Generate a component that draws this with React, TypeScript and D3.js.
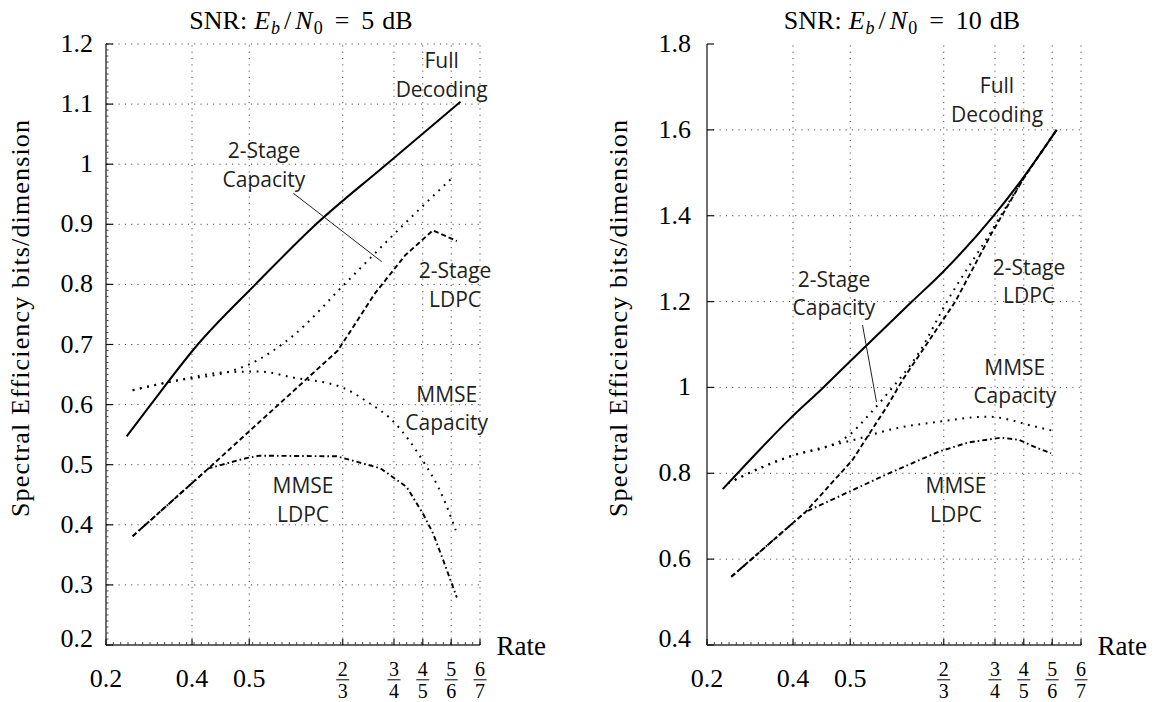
import React from "react";
import * as d3 from "d3";

// ---------- axis definitions ----------
const rateTicks = [0.2, 0.4, 0.5, 2 / 3, 3 / 4, 4 / 5, 5 / 6, 6 / 7];
const rateTickLabels = ["0.2", "0.4", "0.5", "2/3", "3/4", "4/5", "5/6", "6/7"];
// relative placement of each rate tick along the (non-linear) rate axis
const rateAxisStretch = [0, 0.23, 0.383, 0.633, 0.77, 0.847, 0.923, 1];
const minorRateDivisions = 51;

const yTicks5 = [0.2, 0.3, 0.4, 0.5, 0.6, 0.7, 0.8, 0.9, 1.0, 1.1, 1.2];
const yTickLabels5 = ["0.2", "0.3", "0.4", "0.5", "0.6", "0.7", "0.8", "0.9", "1", "1.1", "1.2"];
const yTicks10 = [0.4, 0.6, 0.8, 1.0, 1.2, 1.4, 1.6, 1.8];
const yTickLabels10 = ["0.4", "0.6", "0.8", "1", "1.2", "1.4", "1.6", "1.8"];

// ---------- data: [rate, spectral efficiency] ----------
// Eb/N0 = 5 dB
const fullDecoding5: [number, number][] = [
  [0.248, 0.547], [0.304, 0.6], [0.41, 0.7], [0.511, 0.8], [0.619, 0.9], [0.738, 1.0], [0.841, 1.104],
];
const twoStageCapacity5: [number, number][] = [
  [0.262, 0.624], [0.357, 0.639], [0.461, 0.654], [0.5, 0.667], [0.576, 0.713], [0.673, 0.804], [0.76, 0.893], [0.835, 0.979],
];
const mmseCapacity5: [number, number][] = [
  [0.262, 0.624], [0.357, 0.639], [0.461, 0.654], [0.519, 0.655], [0.578, 0.645], [0.667, 0.628], [0.706, 0.605],
  [0.749, 0.572], [0.803, 0.5], [0.818, 0.463], [0.834, 0.408], [0.837, 0.391],
];
const twoStageLdpc5: [number, number][] = [
  [0.262, 0.381], [0.429, 0.494], [0.658, 0.69], [0.719, 0.785], [0.77, 0.849], [0.812, 0.89], [0.838, 0.872],
];
const mmseLdpc5: [number, number][] = [
  [0.262, 0.381], [0.429, 0.494], [0.495, 0.511], [0.519, 0.515], [0.656, 0.514], [0.728, 0.494], [0.772, 0.463],
  [0.8, 0.419], [0.812, 0.386], [0.824, 0.341], [0.838, 0.279],
];

// Eb/N0 = 10 dB
const fullDecoding10: [number, number][] = [
  [0.2365, 0.763], [0.391, 0.925], [0.453, 1.0], [0.499, 1.06], [0.61, 1.2], [0.663, 1.266], [0.748, 1.4], [0.796, 1.483], [0.837, 1.6],
];
const twoStageCapacity10: [number, number][] = [
  [0.249, 0.777], [0.414, 0.847], [0.446, 0.856], [0.498, 0.889], [0.536, 0.94], [0.569, 0.99], [0.622, 1.08],
  [0.672, 1.2], [0.738, 1.35], [0.801, 1.49], [0.837, 1.6],
];
const mmseCapacity10: [number, number][] = [
  [0.249, 0.777], [0.414, 0.847], [0.446, 0.858], [0.504, 0.877], [0.582, 0.905], [0.657, 0.92], [0.738, 0.932],
  [0.813, 0.909], [0.832, 0.9],
];
const twoStageLdpc10: [number, number][] = [
  [0.2565, 0.559], [0.422, 0.71], [0.504, 0.831], [0.569, 0.963], [0.593, 1.017], [0.6855, 1.2], [0.7445, 1.359],
  [0.801, 1.491], [0.837, 1.6],
];
const mmseLdpc10: [number, number][] = [
  [0.2565, 0.559], [0.422, 0.71], [0.498, 0.757], [0.569, 0.8], [0.657, 0.85], [0.707, 0.872], [0.761, 0.883],
  [0.791, 0.878], [0.817, 0.858], [0.832, 0.847],
];

// ---------- annotations (data coordinates) ----------
const labels5 = [
  { lines: ["Full", "Decoding"], rate: 0.8222, value: 1.1596 },
  { lines: ["2-Stage", "Capacity"], rate: 0.5263, value: 1.0098 },
  { lines: ["2-Stage", "LDPC"], rate: 0.8365, value: 0.8101 },
  { lines: ["MMSE", "Capacity"], rate: 0.8281, value: 0.6048 },
  { lines: ["MMSE", "LDPC"], rate: 0.5958, value: 0.4524 },
];
const leader5: [number, number][] = [[0.5787, 0.9516], [0.73, 0.8378]];

const labels10 = [
  { lines: ["Full", "Decoding"], rate: 0.7535, value: 1.6852 },
  { lines: ["2-Stage", "Capacity"], rate: 0.4716, value: 1.2347 },
  { lines: ["2-Stage", "LDPC"], rate: 0.8061, value: 1.2619 },
  { lines: ["MMSE", "Capacity"], rate: 0.7844, value: 1.029 },
  { lines: ["MMSE", "LDPC"], rate: 0.6866, value: 0.7534 },
];
const leader10: [number, number][] = [[0.5219, 1.1454], [0.5468, 0.966]];

const styles: Record<string, { dash: string; width: number; smooth: boolean }> = {
  full: { dash: "", width: 2, smooth: true },
  twoCap: { dash: "1.8,5.6", width: 2, smooth: true },
  mmseCap: { dash: "1.8,5.6", width: 2, smooth: true },
  twoLdpc: { dash: "5,3", width: 1.9, smooth: false },
  mmseLdpc: { dash: "5,3,1.6,3", width: 1.9, smooth: false },
};

const SERIF = "'Liberation Serif', 'Times New Roman', serif";
const SANS = "'Open Sans', 'Noto Sans', sans-serif";

const TOP = 44;
const BOTTOM = 645;
const W = 374;

type PanelProps = {
  x0: number;
  snr: string;
  yDomain: [number, number];
  yTicks: number[];
  yTickLabels: string[];
  series: { data: [number, number][]; style: string }[];
  labels: { lines: string[]; rate: number; value: number }[];
  leader: [number, number][];
  minorY: number | null;
  topGrid: boolean;
  labelGap: number;
  yLabelX: number;
};

function Panel(p: PanelProps) {
  const x = d3
    .scaleLinear()
    .domain(rateTicks)
    .range(rateAxisStretch.map((f) => p.x0 + f * W));
  const y = d3.scaleLinear().domain(p.yDomain).range([BOTTOM, TOP]);
  const minorX = d3.scaleLinear().domain([0, minorRateDivisions]).range([p.x0, p.x0 + W]);
  const lineLinear = d3
    .line<[number, number]>()
    .x((d) => x(d[0]))
    .y((d) => y(d[1]));
  const lineSmooth = d3
    .line<[number, number]>()
    .x((d) => x(d[0]))
    .y((d) => y(d[1]))
    .curve(d3.curveMonotoneX);
  const xEnd = p.x0 + W;
  const minorYTicks =
    p.minorY != null ? d3.range(p.yDomain[0], p.yDomain[1] + 1e-9, p.minorY) : [];
  const cx = p.x0 + W / 2 + 8;

  return (
    <g>
      {/* title */}
      <text x={cx} y={28.5} textAnchor="middle" fontFamily={SERIF} fontSize={26} fill="#000">
        <tspan>SNR:</tspan>
        <tspan dx={7} fontStyle="italic">E</tspan>
        <tspan dx={1} dy={5} fontSize={18} fontStyle="italic">b</tspan>
        <tspan dx={4} dy={-5}>/</tspan>
        <tspan dx={4} fontStyle="italic">N</tspan>
        <tspan dx={1} dy={5} fontSize={18}>0</tspan>
        <tspan dx={12} dy={-5}>=</tspan>
        <tspan dx={12}>{p.snr}</tspan>
        <tspan dx={8}>dB</tspan>
      </text>

      {/* grid */}
      {rateTicks.slice(1).map((r, i) => (
        <line key={"gv" + i} x1={x(r)} x2={x(r)} y1={BOTTOM} y2={TOP}
          stroke="#444" strokeWidth={1} strokeDasharray="1.1,5.2" />
      ))}
      {p.yTicks.slice(1, p.topGrid ? undefined : -1).map((v, i) => (
        <line key={"gh" + i} x1={p.x0} x2={xEnd} y1={y(v)} y2={y(v)}
          stroke="#444" strokeWidth={1} strokeDasharray="1.1,5.2" />
      ))}

      {/* axes */}
      <line x1={p.x0} x2={p.x0} y1={TOP} y2={BOTTOM} stroke="#222" strokeWidth={1.3} />
      <line x1={p.x0} x2={xEnd} y1={BOTTOM} y2={BOTTOM} stroke="#333" strokeWidth={1.6} />
      {d3.range(0, minorRateDivisions + 1).map((k) => (
        <line key={"mx" + k} x1={minorX(k)} x2={minorX(k)} y1={BOTTOM} y2={BOTTOM - 3}
          stroke="#444" strokeWidth={1} />
      ))}
      {rateTicks.map((r, i) => (
        <line key={"tx" + i} x1={x(r)} x2={x(r)} y1={BOTTOM} y2={BOTTOM - 6} stroke="#111" strokeWidth={1.2} />
      ))}
      {minorYTicks.map((v, i) => (
        <line key={"my" + i} x1={p.x0} x2={p.x0 + 2.5} y1={y(v)} y2={y(v)} stroke="#444" strokeWidth={1} />
      ))}
      {p.yTicks.map((v, i) => (
        <line key={"ty" + i} x1={p.x0} x2={p.x0 + 7} y1={y(v)} y2={y(v)} stroke="#111" strokeWidth={1.2} />
      ))}

      {/* y tick labels */}
      {p.yTicks.map((v, i) => (
        <text key={"yl" + i} x={p.x0 - p.labelGap} y={y(v) + 8 - (i === 0 ? 6 : 0)}
          textAnchor="end" fontFamily={SERIF} fontSize={26}>
          {p.yTickLabels[i]}
        </text>
      ))}

      {/* x tick labels */}
      {rateTicks.map((r, i) => {
        const lab = rateTickLabels[i];
        const xx = x(r);
        if (lab.includes("/")) {
          const [num, den] = lab.split("/");
          return (
            <g key={"xl" + i}>
              <text x={xx} y={675.5} textAnchor="middle" fontFamily={SERIF} fontSize={20}>{num}</text>
              <line x1={xx - 6.5} x2={xx + 6.5} y1={679.8} y2={679.8} stroke="#000" strokeWidth={1} />
              <text x={xx} y={698} textAnchor="middle" fontFamily={SERIF} fontSize={20}>{den}</text>
            </g>
          );
        }
        return (
          <text key={"xl" + i} x={xx} y={686.7} textAnchor="middle" fontFamily={SERIF} fontSize={26}>
            {lab}
          </text>
        );
      })}

      {/* axis titles */}
      <text x={xEnd + 16.5} y={655} fontFamily={SERIF} fontSize={27}>Rate</text>
      <text transform={`translate(${p.yLabelX},318.5) rotate(-90)`} textAnchor="middle"
        fontFamily={SERIF} fontSize={26} textLength={397} lengthAdjust="spacing">
        Spectral Efficiency bits/dimension
      </text>

      {/* curves */}
      {p.series.map((s, i) => {
        const st = styles[s.style];
        const gen = st.smooth ? lineSmooth : lineLinear;
        return (
          <path key={"s" + i} d={gen(s.data) || ""} fill="none" stroke="#000"
            strokeWidth={st.width}
            strokeDasharray={st.dash || undefined}
            strokeLinejoin="round" />
        );
      })}

      {/* leader line */}
      <line x1={x(p.leader[0][0])} y1={y(p.leader[0][1])} x2={x(p.leader[1][0])} y2={y(p.leader[1][1])}
        stroke="#222" strokeWidth={1} />

      {/* curve labels */}
      {p.labels.map((l, i) => (
        <text key={"lb" + i} x={x(l.rate)} y={y(l.value)} textAnchor="middle"
          fontFamily={SANS} fontSize={21} fill="#231f20">
          {l.lines.map((t, j) => (
            <tspan key={j} x={x(l.rate)} dy={j === 0 ? 0 : 28.4}>{t}</tspan>
          ))}
        </text>
      ))}
    </g>
  );
}

export default function App() {
  return (
    <svg width={1156} height={702} viewBox="0 0 1156 702"
      style={{ position: "absolute", left: 0, top: 0, background: "#fff" }}>
      <rect x={0} y={0} width={1156} height={702} fill="#fff" />
      <Panel
        x0={106}
        snr="5"
        yDomain={[0.2, 1.2]}
        yTicks={yTicks5}
        yTickLabels={yTickLabels5}
        series={[
          { data: fullDecoding5, style: "full" },
          { data: twoStageCapacity5, style: "twoCap" },
          { data: mmseCapacity5, style: "mmseCap" },
          { data: twoStageLdpc5, style: "twoLdpc" },
          { data: mmseLdpc5, style: "mmseLdpc" },
        ]}
        labels={labels5}
        leader={leader5}
        minorY={0.01}
        topGrid={true}
        labelGap={13}
        yLabelX={29}
      />
      <Panel
        x0={707}
        snr="10"
        yDomain={[0.4, 1.8]}
        yTicks={yTicks10}
        yTickLabels={yTickLabels10}
        series={[
          { data: fullDecoding10, style: "full" },
          { data: twoStageCapacity10, style: "twoCap" },
          { data: mmseCapacity10, style: "mmseCap" },
          { data: twoStageLdpc10, style: "twoLdpc" },
          { data: mmseLdpc10, style: "mmseLdpc" },
        ]}
        labels={labels10}
        leader={leader10}
        minorY={null}
        topGrid={false}
        labelGap={16}
        yLabelX={626.5}
      />
    </svg>
  );
}
